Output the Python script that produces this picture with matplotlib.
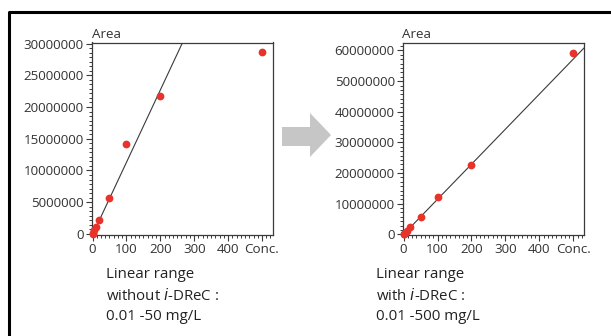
import matplotlib
matplotlib.use("Agg")
import matplotlib.pyplot as plt
import numpy as np
from matplotlib.ticker import AutoMinorLocator, FixedLocator
from matplotlib.patches import Polygon
from matplotlib.lines import Line2D

plt.rcParams['font.family'] = ['Open Sans', 'DejaVu Sans']

# concentrations (mg/L)
conc = [0.01, 1, 5, 10, 20, 50, 100, 200, 500]
# peak area without i-DReC
area_without = [0, 150000, 600000, 1100000, 2250000, 5700000, 14200000, 21700000, 28600000]
# peak area with i-DReC
area_with = [0, 120000, 600000, 1200000, 2400000, 5700000, 12100000, 22700000, 59300000]

# calibration lines (slope, intercept)
fit_without = (114000, -130000)
fit_with = (114500, 0)

xticks = [0, 100, 200, 300, 400, 500]
xticklabels = ['0', '100', '200', '300', '400', 'Conc.']

captions = [
    ["Linear range", "without $\\mathit{i}$-DReC :", "0.01 -50 mg/L"],
    ["Linear range", "with $\\mathit{i}$-DReC :", "0.01 -500 mg/L"],
]

W, H = 611, 336
fig = plt.figure(figsize=(W / 100, H / 100), dpi=100)
fig.patch.set_facecolor('white')

grey = '#3a3a3a'
red = '#e8332a'


def px(x0, y0, x1, y1):
    return [x0 / W, 1 - y1 / H, (x1 - x0) / W, (y1 - y0) / H]


def make_panel(rect, y, fit, ylim, ymajor, cap_x):
    ax = fig.add_axes(rect)
    xs = np.array([0, 600])
    ax.plot(xs, fit[0] * xs + fit[1], color=grey, lw=0.8, zorder=2)
    ax.plot(conc, y, 'o', color=red, ms=5.6, mec='none', zorder=3, clip_on=False)
    ax.set_xlim(-3, 531)
    ax.set_ylim(*ylim)
    ax.xaxis.set_major_locator(FixedLocator(xticks))
    ax.set_xticklabels(xticklabels)
    ax.yaxis.set_major_locator(FixedLocator(np.arange(0, ylim[1] + 1, ymajor)))
    ax.yaxis.set_major_formatter(plt.FuncFormatter(lambda v, p: f"{int(round(v))}"))
    ax.xaxis.set_minor_locator(AutoMinorLocator(8))
    ax.yaxis.set_minor_locator(AutoMinorLocator(7))
    ax.tick_params(which='major', direction='out', length=4, width=0.8,
                   color=grey, labelsize=9.6, labelcolor='#333333', pad=1.5)
    ax.tick_params(which='minor', direction='out', length=2.5, width=0.7, color=grey)
    for s in ax.spines.values():
        s.set_color(grey)
        s.set_linewidth(0.9)
    ax.text(0.0, 1.01, 'Area', transform=ax.transAxes, ha='left', va='bottom',
            fontsize=9.6, color='#333333')
    for i, line in enumerate(captions[cap_x[1]]):
        fig.text(cap_x[0] / W, 1 - (275 + 21 * i) / H, line, ha='left', va='center',
                 fontsize=10.8, color='#222222')
    return ax


make_panel(px(91.5, 42.5, 272.5, 235), area_without, fit_without,
           (-160000, 30160000), 5000000, (106, 0))
make_panel(px(402.5, 42.5, 584, 235), area_with, fit_with,
           (-200000, 62600000), 10000000, (376, 1))

# grey arrow between panels
arrow = [(282, 127), (310, 127), (310, 113), (331, 135), (310, 157), (310, 146), (282, 146)]
fig.patches.append(Polygon([(x / W, 1 - y / H) for x, y in arrow], closed=True,
                           transform=fig.transFigure, facecolor='#c6c6c6', edgecolor='none'))

# frame (left and top)
fig.lines.append(Line2D([8.5 / W, 8.5 / W, 1], [0, 1 - 12 / H, 1 - 12 / H],
                        transform=fig.transFigure, color='black', lw=2.2))

fig.savefig('out.png', dpi=100)
